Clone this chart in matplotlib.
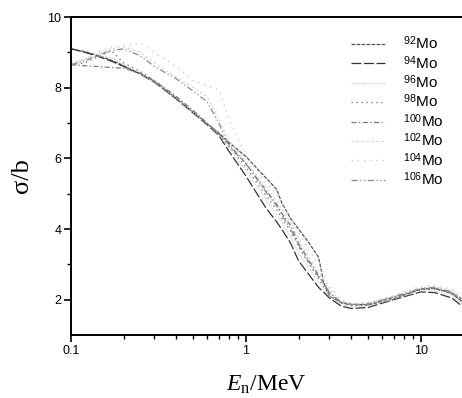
import matplotlib
matplotlib.use("Agg")
import matplotlib.pyplot as plt
from matplotlib.ticker import FixedLocator, NullFormatter, FixedFormatter

plt.rcParams['font.family'] = ['Liberation Sans', 'DejaVu Sans']
plt.rcParams['mathtext.fontset'] = 'custom'
plt.rcParams['mathtext.rm'] = 'Liberation Serif'
plt.rcParams['mathtext.it'] = 'Liberation Serif:italic'
plt.rcParams['mathtext.sf'] = 'Liberation Sans'

energy = [0.1, 0.12, 0.14, 0.17, 0.2, 0.25, 0.3, 0.4, 0.5, 0.6, 0.7, 0.8, 1.0, 1.3, 1.5,
          1.6, 1.8, 2.0, 2.3, 2.6, 2.8, 3.0, 3.5, 4.0, 5.0, 7.0, 10, 12, 15, 17.2]

mo92 = [9.1, 9.02, 8.92, 8.78, 8.62, 8.4, 8.17, 7.7, 7.3, 6.98, 6.72, 6.45, 6.05, 5.45, 5.12,
        4.75, 4.3, 4.0, 3.6, 3.2, 2.45, 2.1, 1.92, 1.87, 1.85, 2.02, 2.3, 2.32, 2.18, 1.95]
mo94 = [9.1, 9.0, 8.9, 8.75, 8.6, 8.38, 8.15, 7.68, 7.28, 6.95, 6.65, 6.2, 5.5, 4.6, 4.2,
        4.0, 3.6, 3.1, 2.7, 2.35, 2.2, 2.05, 1.82, 1.75, 1.78, 2.0, 2.22, 2.2, 2.05, 1.82]
mo96 = [8.7, 8.8, 8.9, 8.85, 8.65, 8.4, 8.15, 7.7, 7.3, 6.97, 6.68, 6.3, 5.65, 4.85, 4.4,
        4.2, 3.8, 3.3, 2.9, 2.5, 2.3, 2.1, 1.88, 1.8, 1.82, 2.02, 2.25, 2.25, 2.12, 1.88]
mo98 = [8.65, 8.7, 8.85, 9.05, 8.7, 8.45, 8.2, 7.72, 7.32, 6.98, 6.7, 6.35, 5.75, 4.95, 4.55,
        4.3, 3.95, 3.5, 3.0, 2.6, 2.35, 2.15, 1.9, 1.83, 1.85, 2.05, 2.28, 2.3, 2.18, 1.95]
mo100 = [8.65, 8.62, 8.6, 8.57, 8.55, 8.4, 8.2, 7.75, 7.35, 7.0, 6.7, 6.4, 5.85, 5.1, 4.7,
         4.45, 4.1, 3.6, 3.1, 2.7, 2.45, 2.2, 1.92, 1.85, 1.87, 2.07, 2.3, 2.32, 2.2, 2.0]
mo102 = [8.65, 8.8, 8.95, 9.1, 9.15, 9.0, 8.7, 8.3, 8.0, 7.75, 7.1, 6.5, 5.9, 5.2, 4.8,
         4.55, 4.2, 3.75, 3.2, 2.8, 2.55, 2.3, 1.95, 1.88, 1.9, 2.1, 2.33, 2.36, 2.25, 2.05]
mo104 = [8.65, 8.8, 9.0, 9.15, 9.2, 9.25, 9.0, 8.6, 8.2, 8.05, 7.95, 7.1, 6.1, 5.3, 5.0,
         4.7, 4.3, 3.9, 3.4, 3.0, 2.7, 2.4, 2.0, 1.9, 1.92, 2.12, 2.38, 2.4, 2.3, 2.1]
mo106 = [8.65, 8.75, 8.9, 9.05, 9.1, 8.9, 8.6, 8.25, 7.9, 7.6, 7.0, 6.35, 5.85, 5.05, 4.65,
         4.4, 4.0, 3.55, 3.05, 2.65, 2.45, 2.2, 1.93, 1.86, 1.88, 2.08, 2.32, 2.35, 2.22, 2.02]

labels = [r'$^{\mathsf{92}}$Mo', r'$^{\mathsf{94}}$Mo', r'$^{\mathsf{96}}$Mo', r'$^{\mathsf{98}}$Mo',
          r'$^{\mathsf{100}}$Mo', r'$^{\mathsf{102}}$Mo', r'$^{\mathsf{104}}$Mo', r'$^{\mathsf{106}}$Mo']
series = [mo92, mo94, mo96, mo98, mo100, mo102, mo104, mo106]
colors = ['#555555', '#333333', '#cfcfcf', '#666666', '#777777', '#d8d8d8', '#c4c4c4', '#8a8a8a']
styles = [(0, (3, 1)), (0, (8, 2)), (0, (1, 1)), (0, (1, 3)),
          (0, (4, 2, 1, 2)), (0, (2, 2)), (0, (1, 4)), (0, (5, 2, 1, 2, 1, 2))]

fig = plt.figure(figsize=(4.62, 3.98), dpi=100)
ax = fig.add_axes([71 / 462, 1 - 335 / 398, 1 - 71 / 462, (335 - 17) / 398])

for vals, lab, c, ls in zip(series, labels, colors, styles):
    ax.plot(energy, vals, color=c, linestyle=ls, linewidth=0.9, label=lab)

ax.set_xscale('log')
ax.set_xlim(0.1, 17.2)
ax.set_ylim(1, 10)

ax.xaxis.set_major_locator(FixedLocator([0.1, 1, 10]))
ax.xaxis.set_major_formatter(FixedFormatter(['0.1', '1', '10']))
ax.xaxis.set_minor_locator(FixedLocator([0.2, 0.3, 0.4, 0.5, 0.6, 0.7, 0.8, 0.9,
                                         2, 3, 4, 5, 6, 7, 8, 9]))
ax.xaxis.set_minor_formatter(NullFormatter())
ax.yaxis.set_major_locator(FixedLocator([2, 4, 6, 8, 10]))
ax.yaxis.set_minor_locator(FixedLocator([3, 5, 7, 9]))

ax.tick_params(which='major', direction='out', length=5, width=1.2, labelsize=9, pad=2)
ax.tick_params(which='minor', direction='out', length=3, width=1.0)
ax.spines['right'].set_visible(False)
for s in ['left', 'bottom', 'top']:
    ax.spines[s].set_linewidth(1.4)

ax.set_ylabel('σ/b', fontsize=19, family=['Liberation Serif', 'DejaVu Serif'], labelpad=10)
ax.set_xlabel(r'$E_{\mathrm{n}}$/MeV', fontsize=17, family=['Liberation Serif'], labelpad=12)

leg = ax.legend(loc='upper right', bbox_to_anchor=(0.97, 0.965), frameon=False,
                fontsize=11, handlelength=2.2, labelspacing=0.1, handletextpad=1.2,
                borderaxespad=0)

fig.savefig('out.png', dpi=100)
